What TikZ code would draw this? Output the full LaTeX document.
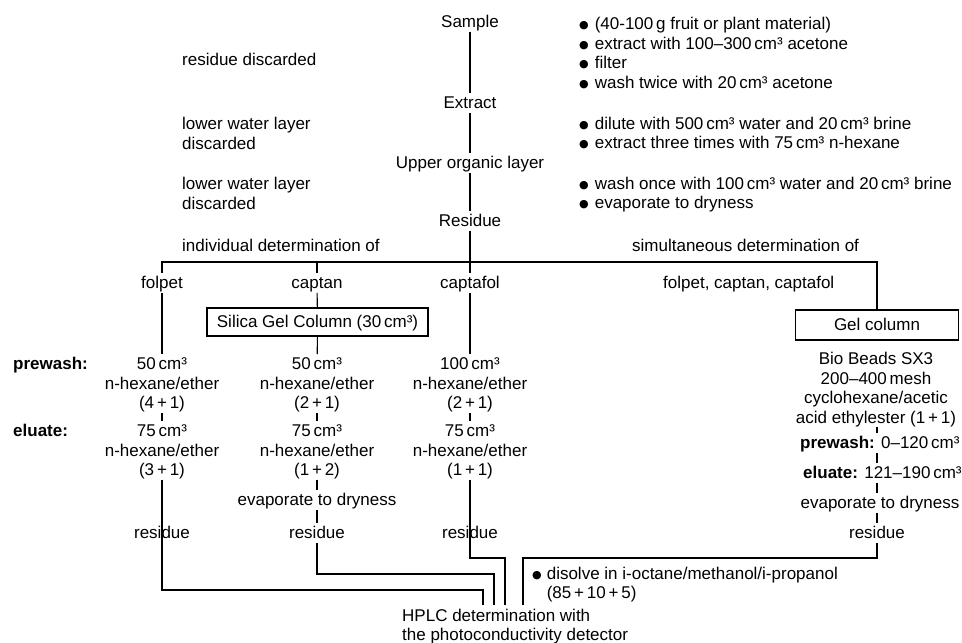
\documentclass[tikz,border=0pt]{standalone}
\usepackage{fontspec}
\setmainfont{Liberation Sans}
\newfontfamily\djv{DejaVu Sans}
\newcommand\sx{\rule[-4pt]{0pt}{19.5pt}}
\newcommand\bul{\raisebox{0.8pt}{\djv\fontsize{11}{11}\selectfont ●}}
\begin{document}
\begin{tikzpicture}[x=1pt,y=-1pt,
  lbl/.style={inner sep=0pt, font=\fontsize{17}{19.5}\selectfont, align=center},
  lbll/.style={lbl, align=left},
  boxn/.style={lbl, draw, line width=1.1pt},
  ln/.style={line width=1.1pt}]
\useasboundingbox (0,0) rectangle (962,643);

% main column
\node[lbl] (sample) at (470,22) {\sx Sample};
\node[lbl] (extract) at (470,103) {\sx Extract};
\node[lbl] (upper) at (470,163) {\sx Upper organic layer};
\node[lbl] (residue) at (470,221) {\sx Residue};
\draw[ln] (sample) -- (extract);
\draw[ln] (extract) -- (upper);
\draw[ln] (upper) -- (residue);

% left notes
\node[lbll, anchor=west] (n1) at (182,60) {\sx residue discarded};
\node[lbll, anchor=west] (n2) at (182,133.5) {\sx lower water layer\\\sx discarded};
\node[lbll, anchor=west] (n3) at (182,193.5) {\sx lower water layer\\\sx discarded};

% right bullets
\node[lbll, anchor=west] (b1) at (579,53) {\sx\bul\hspace{6pt}(40-100\,g fruit or plant material)\\
  \sx\bul\hspace{6pt}extract with 100–300\,cm³ acetone\\
  \sx\bul\hspace{6pt}filter\\
  \sx\bul\hspace{6pt}wash twice with 20\,cm³ acetone};
\node[lbll, anchor=west] (b2) at (579,133) {\sx\bul\hspace{6pt}dilute with 500\,cm³ water and 20\,cm³ brine\\
  \sx\bul\hspace{6pt}extract three times with 75\,cm³ n-hexane};
\node[lbll, anchor=west] (b3) at (579,193) {\sx\bul\hspace{6pt}wash once with 100\,cm³ water and 20\,cm³ brine\\
  \sx\bul\hspace{6pt}evaporate to dryness};

% split
\node[lbll, anchor=west] (ind) at (182,246) {\sx individual determination of};
\node[lbll, anchor=west] (sim) at (632,246) {\sx simultaneous determination of};
\node[lbll, anchor=west] (fcc) at (663,283) {\sx folpet, captan, captafol};
\node[lbl] (folpet) at (162,283) {\sx folpet};
\node[lbl] (captan) at (317,283) {\sx captan};
\node[lbl] (captafol) at (470,283) {\sx captafol};
\coordinate (hl) at (877,262);

\node[boxn, minimum width=221pt, minimum height=28pt] (silica) at (317.5,322) {\sx Silica Gel Column (30\,cm³)};
\node[boxn, minimum width=163pt, minimum height=30pt] (gel) at (877,325) {\sx Gel column};

\draw[ln] (folpet.north) -- (folpet.north |- hl) -- (hl) -- (gel.north);
\draw[ln] (captan.north) -- (captan.north |- hl);
\draw[ln] (residue) -- (captafol);
\draw[ln] (captan) -- (silica);

% labels
\node[lbll, anchor=west] (pw) at (13,364) {\sx\textbf{prewash:}};
\node[lbll, anchor=west] (el) at (13,431) {\sx\textbf{eluate:}};

% blocks A
\node[lbl] (folA) at (162,383.5) {\sx 50\,cm³\\\sx n-hexane/ether\\\sx (4\,+\,1)};
\node[lbl] (capA) at (317,383.5) {\sx 50\,cm³\\\sx n-hexane/ether\\\sx (2\,+\,1)};
\node[lbl] (cafA) at (470,383.5) {\sx 100\,cm³\\\sx n-hexane/ether\\\sx (2\,+\,1)};
% blocks B
\node[lbl] (folB) at (162,450.5) {\sx 75\,cm³\\\sx n-hexane/ether\\\sx (3\,+\,1)};
\node[lbl] (capB) at (317,450.5) {\sx 75\,cm³\\\sx n-hexane/ether\\\sx (1\,+\,2)};
\node[lbl] (cafB) at (470,450.5) {\sx 75\,cm³\\\sx n-hexane/ether\\\sx (1\,+\,1)};

\node[lbl] (capEv) at (317,500) {\sx evaporate to dryness};
\node[lbl] (folRes) at (162,533) {\sx residue};
\node[lbl] (capRes) at (317,533) {\sx residue};
\node[lbl] (cafRes) at (470,533) {\sx residue};

\draw[ln] (folpet) -- (folA);
\draw[ln] (silica) -- (capA);
\draw[ln] (captafol) -- (cafA);
\draw[ln] (folA) -- (folB);
\draw[ln] (capA) -- (capB);
\draw[ln] (cafA) -- (cafB);
\draw[ln] (capB) -- (capEv);
\draw[ln] (capEv) -- (capRes);

% right column
\node[lbl] (bio) at (876,388.25) {\sx Bio Beads SX3\\\sx 200–400\,mesh\\\sx cyclohexane/acetic\\\sx acid ethylester (1\,+\,1)};
\node[lbll, anchor=west] (pw2) at (800,443) {\sx\textbf{prewash:} 0–120\,cm³};
\node[lbll, anchor=west] (el2) at (803,473) {\sx\textbf{eluate:} 121–190\,cm³};
\node[lbl] (gEv) at (880,503) {\sx evaporate to dryness};
\node[lbl] (gRes) at (877,533) {\sx residue};
\draw[ln] (bio.south -| hl) -- (pw2.north -| hl);
\draw[ln] (pw2.south -| hl) -- (el2.north -| hl);
\draw[ln] (el2.south -| hl) -- (gEv.north -| hl);
\draw[ln] (gEv.south -| hl) -- (gRes.north -| hl);

% bottom
\node[lbll, anchor=west] (hplc) at (402,625) {\sx HPLC determination with\\\sx the photoconductivity detector};
\node[lbll, anchor=west] (dis) at (532,583.25) {\sx\bul\hspace{5pt}disolve in i-octane/methanol/i-propanol\\\sx\phantom{\bul\hspace{5pt}}(85\,+\,10\,+\,5)};
\coordinate (j1) at (483,590);
\coordinate (j2) at (494,574);
\coordinate (j3) at (505,558);
\coordinate (j4) at (523,558);
\draw[ln] (folB.south) -- (folB.south |- j1) -- (j1) -- (j1 |- hplc.north);
\draw[ln] (capRes) -- (capRes.south |- j2) -- (j2) -- (j2 |- hplc.north);
\draw[ln] (cafB.south) -- (cafB.south |- j3) -- (j3) -- (j3 |- hplc.north);
\draw[ln] (gRes) -- (gRes.south |- j4) -- (j4) -- (j4 |- hplc.north);
\end{tikzpicture}
\end{document}
